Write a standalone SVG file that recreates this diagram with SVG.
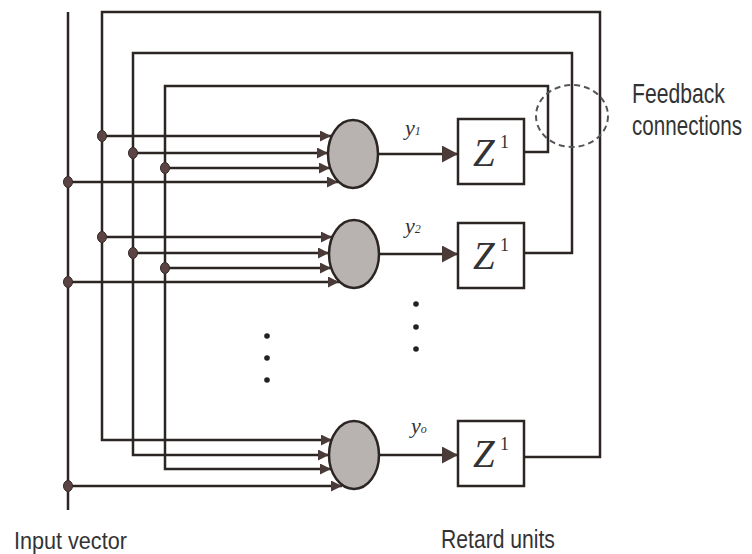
<svg xmlns="http://www.w3.org/2000/svg" width="752" height="554" viewBox="0 0 752 554">
<defs>
<style>
.ln{fill:none;stroke:#2b2523;stroke-width:2.5;stroke-linejoin:miter}
.arr{marker-end:url(#ah)}
.arr2{marker-end:url(#ah2)}
.dot{fill:#5b4444;stroke:#3a2a2a;stroke-width:1}
.neuron{fill:#b8b2b0;stroke:#2b2523;stroke-width:2.5}
.box{fill:#fff;stroke:#2b2523;stroke-width:2.5}
.z{font-family:"Liberation Serif",serif;font-style:italic;font-size:39px;fill:#333}
.sup{font-family:"Liberation Serif",serif;font-size:18px;fill:#333}
.y{font-family:"Liberation Serif",serif;font-style:italic;font-size:22px;fill:#333}
.sub{font-family:"Liberation Serif",serif;font-size:12px;fill:#333}
.lbl{font-family:"Liberation Sans",Arial,sans-serif;fill:#333}
.vd{fill:#222}
</style>
<marker id="ah" markerUnits="userSpaceOnUse" markerWidth="12" markerHeight="11" refX="11" refY="5.5" orient="auto">
<path d="M0,0 L11,5.5 L0,11 z" fill="#4a3a38"/>
</marker>
<marker id="ah2" markerUnits="userSpaceOnUse" markerWidth="16" markerHeight="17" refX="16" refY="8.5" orient="auto">
<path d="M0,0 L16,8.5 L0,17 z" fill="#4a3a38"/>
</marker>
</defs>
<rect width="752" height="554" fill="#fff"/>

<g id="connectors">
<path class="ln" d="M68,12 V510"/>
<path class="ln arr" d="M524,457 H600 V12 H102 V440 H332"/>
<path class="ln arr" d="M524,253 H572 V53 H133 V455 H329"/>
<path class="ln arr" d="M524,152 H548 V86 H165 V469 H331"/>
<path class="ln arr" d="M102,136 H331"/>
<path class="ln arr" d="M133,153 H328"/>
<path class="ln arr" d="M165,168 H330"/>
<path class="ln arr" d="M68,182 H338"/>
<path class="ln arr" d="M102,237 H332"/>
<path class="ln arr" d="M133,253 H329"/>
<path class="ln arr" d="M165,268 H331"/>
<path class="ln arr" d="M68,282 H339"/>
<path class="ln arr" d="M68,486 H342"/>
<path class="ln arr2" d="M378,154 H458"/>
<path class="ln arr2" d="M379,254 H458"/>
<path class="ln arr2" d="M379,455 H458"/>
<ellipse class="dot" cx="102" cy="136" rx="4.5" ry="5.5"/>
<ellipse class="dot" cx="133" cy="153" rx="4.5" ry="5.5"/>
<ellipse class="dot" cx="165" cy="168" rx="4.5" ry="5.5"/>
<ellipse class="dot" cx="68" cy="182" rx="4.5" ry="5.5"/>
<ellipse class="dot" cx="102" cy="237" rx="4.5" ry="5.5"/>
<ellipse class="dot" cx="133" cy="253" rx="4.5" ry="5.5"/>
<ellipse class="dot" cx="165" cy="268" rx="4.5" ry="5.5"/>
<ellipse class="dot" cx="68" cy="282" rx="4.5" ry="5.5"/>
<ellipse class="dot" cx="68" cy="486" rx="4.5" ry="5.5"/>
</g>

<g id="neuron1"><ellipse class="neuron" cx="353" cy="154" rx="25" ry="34"/></g>
<g id="neuron2"><ellipse class="neuron" cx="354" cy="254" rx="25" ry="34"/></g>
<g id="neuron3"><ellipse class="neuron" cx="354" cy="455" rx="25" ry="34"/></g>

<g id="label-y1"><text class="y" x="405" y="135">y<tspan class="sub">1</tspan></text></g>
<g id="label-y2"><text class="y" x="405" y="233">y<tspan class="sub">2</tspan></text></g>
<g id="label-yo"><text class="y" x="411" y="433">y<tspan class="sub">o</tspan></text></g>

<g id="retard1"><rect class="box" x="458" y="119" width="66" height="65"/><text class="z" x="473" y="166">Z</text><text class="sup" x="500" y="148">1</text></g>
<g id="retard2"><rect class="box" x="458" y="223" width="66" height="65"/><text class="z" x="473" y="269">Z</text><text class="sup" x="500" y="251">1</text></g>
<g id="retard3"><rect class="box" x="458" y="421" width="66" height="65"/><text class="z" x="473" y="467">Z</text><text class="sup" x="500" y="450">1</text></g>

<g id="ellipsis-neurons">
<circle class="vd" cx="267" cy="336" r="2.8"/>
<circle class="vd" cx="267" cy="358" r="2.8"/>
<circle class="vd" cx="267" cy="380" r="2.8"/>
</g>
<g id="ellipsis-outputs">
<circle class="vd" cx="416" cy="304" r="2.8"/>
<circle class="vd" cx="416" cy="327" r="2.8"/>
<circle class="vd" cx="416" cy="349" r="2.8"/>
</g>

<g id="feedback-marker">
<ellipse cx="572" cy="116" rx="36" ry="31" fill="none" stroke="#555" stroke-width="2" stroke-dasharray="6 4"/>
</g>
<g id="feedback-label">
<text class="lbl" transform="translate(632,103) scale(0.784,1)" font-size="27">Feedback</text>
<text class="lbl" transform="translate(632,135) scale(0.764,1)" font-size="27">connections</text>
</g>
<g id="input-label"><text class="lbl" transform="translate(14,549) scale(0.9,1)" font-size="24">Input vector</text></g>
<g id="retard-label"><text class="lbl" transform="translate(441,548) scale(0.813,1)" font-size="26">Retard units</text></g>
</svg>
